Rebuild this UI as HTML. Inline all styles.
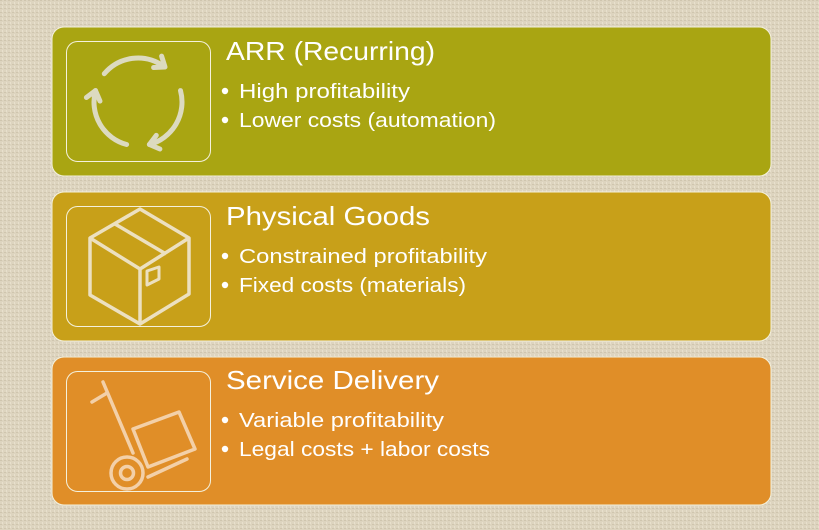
<!DOCTYPE html>
<html><head><meta charset="utf-8"><style>
html,body{margin:0;padding:0;background:#ddd4bf;}
svg{display:block}
text{font-family:"Liberation Sans",sans-serif;fill:#fff}
</style></head><body>
<svg width="819" height="530" viewBox="0 0 819 530" xmlns="http://www.w3.org/2000/svg">
<defs>
<pattern id="tx" width="4" height="4" patternUnits="userSpaceOnUse">
<rect width="4" height="4" fill="#ddd4bf"/>
<rect width="2" height="1" fill="#cfc5ae"/>
<rect x="2" y="2" width="1" height="2" fill="#e8e0cd"/>
</pattern>
</defs>
<rect width="819" height="530" fill="url(#tx)"/>

<!-- Row 1 -->
<rect x="52" y="27" width="719" height="149" rx="12" fill="#a9a512" stroke="#f4f1dc" stroke-width="1"/>
<rect x="66.5" y="41.5" width="144" height="120" rx="11" fill="none" stroke="#f4f1dc" stroke-width="1"/>
<g fill="none" stroke="#dcdac0" stroke-width="5" stroke-linecap="round" stroke-linejoin="round">
<path d="M104.3 73.7 A44 44 0 0 1 163.2 66"/>
<path d="M161.6 56.1 L165 67 L153.6 67.5"/>
<path d="M180.5 90.6 A44 44 0 0 1 149.4 144.5"/>
<path d="M159.9 149 L149.4 144.5 L156.3 135.4"/>
<path d="M126.6 144.5 A44 44 0 0 1 95.5 90.6"/>
<path d="M86.4 97.5 L95.5 90.6 L100 101.1"/>
</g>
<text x="226" y="60" font-size="26" textLength="209" lengthAdjust="spacingAndGlyphs">ARR (Recurring)</text>
<circle cx="225" cy="91" r="3.2" fill="#fff"/>
<text x="239" y="98" font-size="20" textLength="171" lengthAdjust="spacingAndGlyphs">High profitability</text>
<circle cx="225" cy="120" r="3.2" fill="#fff"/>
<text x="239" y="127" font-size="20" textLength="257" lengthAdjust="spacingAndGlyphs">Lower costs (automation)</text>

<!-- Row 2 -->
<rect x="52" y="192" width="719" height="149" rx="12" fill="#c8a019" stroke="#f4f1dc" stroke-width="1"/>
<rect x="66.5" y="206.5" width="144" height="120" rx="11" fill="none" stroke="#f4f1dc" stroke-width="1"/>
<g fill="none" stroke="#ece0c0" stroke-width="3.5" stroke-linejoin="round">
<path d="M140 209 L189 238 L189 294 L140 324 L90 295 L90 238 Z"/>
<path d="M90 238 L140 269 L189 238 M140 269 L140 324"/>
<path d="M115 224 L166 254"/>
<path d="M147 271 L159 267 L159 279 L147 285 Z" stroke-width="3"/>
</g>
<text x="226" y="225" font-size="26" textLength="204" lengthAdjust="spacingAndGlyphs">Physical Goods</text>
<circle cx="225" cy="256" r="3.2" fill="#fff"/>
<text x="239" y="263" font-size="20" textLength="248" lengthAdjust="spacingAndGlyphs">Constrained profitability</text>
<circle cx="225" cy="285" r="3.2" fill="#fff"/>
<text x="239" y="292" font-size="20" textLength="227" lengthAdjust="spacingAndGlyphs">Fixed costs (materials)</text>

<!-- Row 3 -->
<rect x="52" y="357" width="719" height="148" rx="12" fill="#e08e28" stroke="#f4f1dc" stroke-width="1"/>
<rect x="66.5" y="371.5" width="144" height="120" rx="11" fill="none" stroke="#f4f1dc" stroke-width="1"/>
<g fill="none" stroke="#f3d0a8" stroke-width="3.5" stroke-linecap="round" stroke-linejoin="round">
<path d="M103 382 L133 453"/>
<path d="M92 402 L107 393"/>
<path d="M133 429 L179 412 L195 449 L148 467 Z"/>
<path d="M148 477 L187 459"/>
<circle cx="127" cy="473" r="16"/>
<circle cx="127" cy="473" r="6.5"/>
</g>
<text x="226" y="389" font-size="26" textLength="213" lengthAdjust="spacingAndGlyphs">Service Delivery</text>
<circle cx="225" cy="420" r="3.2" fill="#fff"/>
<text x="239" y="427" font-size="20" textLength="205" lengthAdjust="spacingAndGlyphs">Variable profitability</text>
<circle cx="225" cy="449" r="3.2" fill="#fff"/>
<text x="239" y="456" font-size="20" textLength="251" lengthAdjust="spacingAndGlyphs">Legal costs + labor costs</text>
</svg>
</body></html>
